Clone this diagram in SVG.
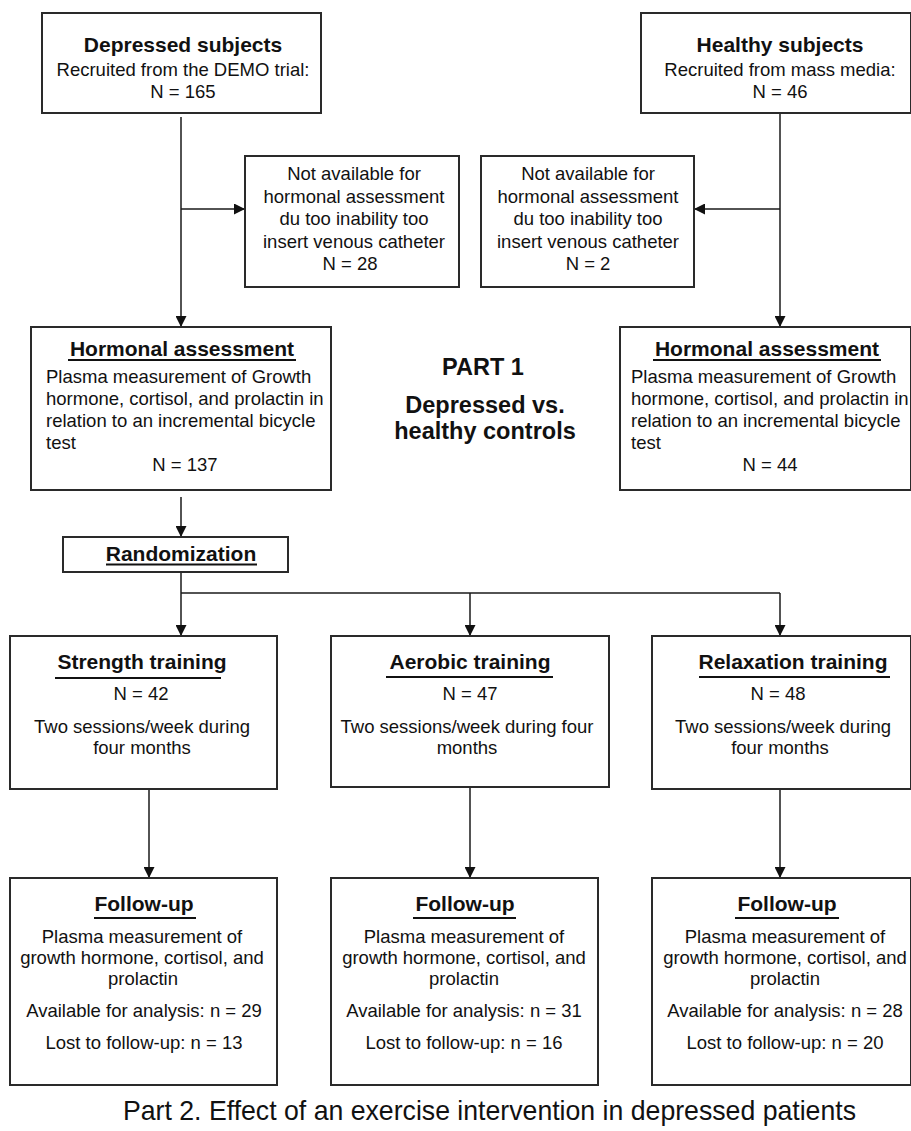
<svg xmlns="http://www.w3.org/2000/svg" width="911" height="1131" viewBox="0 0 911 1131">
<defs>
<marker id="ah" markerUnits="userSpaceOnUse" markerWidth="11" markerHeight="11" refX="11" refY="5.5" orient="auto">
<path d="M0,0 L11,5.5 L0,11 z" fill="#111"/>
</marker>
<style>
.box{fill:#fff;stroke:#2a2a2a;stroke-width:2}
.t{font-family:"Liberation Sans",Arial,sans-serif;font-size:18.5px;fill:#111}
.b{font-family:"Liberation Sans",Arial,sans-serif;font-size:21px;font-weight:bold;fill:#111}
.p{font-family:"Liberation Sans",Arial,sans-serif;font-size:23.5px;font-weight:bold;fill:#111}
.c{text-anchor:middle}
.ul{stroke:#111;stroke-width:1.8}
.cn{stroke:#1a1a1a;stroke-width:1.5;fill:none}
.cap{font-family:"Liberation Sans",Arial,sans-serif;font-size:28px;fill:#111}
</style>
</defs>
<rect width="911" height="1131" fill="#fff"/>

<g id="connectors">
<line class="cn" x1="181" y1="117" x2="181" y2="327" marker-end="url(#ah)"/>
<line class="cn" x1="181" y1="209" x2="245" y2="209" marker-end="url(#ah)"/>
<line class="cn" x1="780" y1="113" x2="780" y2="327" marker-end="url(#ah)"/>
<line class="cn" x1="780" y1="209" x2="694" y2="209" marker-end="url(#ah)"/>
<line class="cn" x1="181" y1="497" x2="181" y2="537" marker-end="url(#ah)"/>
<line class="cn" x1="181" y1="572" x2="181" y2="636" marker-end="url(#ah)"/>
<line class="cn" x1="181" y1="593" x2="780" y2="593"/>
<line class="cn" x1="470" y1="593" x2="470" y2="636" marker-end="url(#ah)"/>
<line class="cn" x1="780" y1="593" x2="780" y2="636" marker-end="url(#ah)"/>
<line class="cn" x1="149" y1="786" x2="149" y2="878" marker-end="url(#ah)"/>
<line class="cn" x1="470" y1="786" x2="470" y2="878" marker-end="url(#ah)"/>
<line class="cn" x1="780" y1="786" x2="780" y2="878" marker-end="url(#ah)"/>
</g>

<g id="depressed">
<rect class="box" x="42" y="13" width="279" height="100"/>
<text class="b c" x="183" y="52">Depressed subjects</text>
<text class="t c" x="183" y="76">Recruited from the DEMO trial:</text>
<text class="t c" x="183" y="98">N = 165</text>
</g>

<g id="healthy">
<rect class="box" x="641" y="13" width="270" height="100"/>
<text class="b c" x="780" y="52">Healthy subjects</text>
<text class="t c" x="780" y="76">Recruited from mass media:</text>
<text class="t c" x="780" y="98">N = 46</text>
</g>

<g id="excluded-depressed">
<rect class="box" x="245" y="156" width="214" height="131"/>
<text class="t c" x="354" y="180">Not available for</text>
<text class="t c" x="354" y="203">hormonal assessment</text>
<text class="t c" x="354" y="225">du too inability too</text>
<text class="t c" x="354" y="248">insert venous catheter</text>
<text class="t c" x="350" y="270">N = 28</text>
</g>

<g id="excluded-healthy">
<rect class="box" x="481" y="156" width="213" height="131"/>
<text class="t c" x="588" y="180">Not available for</text>
<text class="t c" x="588" y="203">hormonal assessment</text>
<text class="t c" x="588" y="225">du too inability too</text>
<text class="t c" x="588" y="248">insert venous catheter</text>
<text class="t c" x="588" y="270">N = 2</text>
</g>

<g id="hormonal-depressed">
<rect class="box" x="31" y="327" width="300" height="163"/>
<text class="b c" x="182" y="356">Hormonal assessment</text>
<line class="ul" x1="68" y1="360" x2="296" y2="360"/>
<text class="t" x="46" y="383">Plasma measurement of Growth</text>
<text class="t" x="46" y="405">hormone, cortisol, and prolactin in</text>
<text class="t" x="46" y="427">relation to an incremental bicycle</text>
<text class="t" x="46" y="449">test</text>
<text class="t c" x="185" y="471">N = 137</text>
</g>

<g id="part1">
<text class="p c" x="483" y="375">PART 1</text>
<text class="p c" x="485" y="413">Depressed vs.</text>
<text class="p c" x="485" y="439">healthy controls</text>
</g>

<g id="hormonal-healthy">
<rect class="box" x="620" y="327" width="291" height="163"/>
<text class="b c" x="767" y="356">Hormonal assessment</text>
<line class="ul" x1="653" y1="360" x2="881" y2="360"/>
<text class="t" x="631" y="383">Plasma measurement of Growth</text>
<text class="t" x="631" y="405">hormone, cortisol, and prolactin in</text>
<text class="t" x="631" y="427">relation to an incremental bicycle</text>
<text class="t" x="631" y="449">test</text>
<text class="t c" x="770" y="471">N = 44</text>
</g>

<g id="randomization">
<rect class="box" x="63" y="537" width="225" height="35"/>
<text class="b c" x="181" y="561">Randomization</text>
<line class="ul" x1="106" y1="564.5" x2="257" y2="564.5"/>
</g>

<g id="strength">
<rect class="box" x="10" y="636" width="267" height="153"/>
<text class="b c" x="142" y="669">Strength training</text>
<line class="ul" x1="55" y1="678" x2="221" y2="678"/>
<text class="t c" x="141" y="700">N = 42</text>
<text class="t c" x="142" y="733">Two sessions/week during</text>
<text class="t c" x="142" y="754">four months</text>
</g>

<g id="aerobic">
<rect class="box" x="331" y="636" width="278" height="151"/>
<text class="b c" x="470" y="669">Aerobic training</text>
<line class="ul" x1="386" y1="677" x2="553" y2="677"/>
<text class="t c" x="470" y="700">N = 47</text>
<text class="t c" x="467" y="733">Two sessions/week during four</text>
<text class="t c" x="467" y="754">months</text>
</g>

<g id="relaxation">
<rect class="box" x="652" y="636" width="259" height="153"/>
<text class="b c" x="793" y="669">Relaxation training</text>
<line class="ul" x1="699" y1="677" x2="890" y2="677"/>
<text class="t c" x="778" y="700">N = 48</text>
<text class="t c" x="783" y="733">Two sessions/week during</text>
<text class="t c" x="780" y="754">four months</text>
</g>

<g id="followup-strength">
<rect class="box" x="10" y="878" width="267" height="207"/>
<text class="b c" x="144" y="911">Follow-up</text>
<line class="ul" x1="94" y1="918" x2="196" y2="918"/>
<text class="t c" x="142" y="943">Plasma measurement of</text>
<text class="t c" x="142" y="964">growth hormone, cortisol, and</text>
<text class="t c" x="143" y="985">prolactin</text>
<text class="t c" x="144" y="1017">Available for analysis: n = 29</text>
<text class="t c" x="144" y="1049">Lost to follow-up: n = 13</text>
</g>

<g id="followup-aerobic">
<rect class="box" x="331" y="878" width="267" height="207"/>
<text class="b c" x="465" y="911">Follow-up</text>
<line class="ul" x1="413" y1="918" x2="516" y2="918"/>
<text class="t c" x="464" y="943">Plasma measurement of</text>
<text class="t c" x="464" y="964">growth hormone, cortisol, and</text>
<text class="t c" x="464" y="985">prolactin</text>
<text class="t c" x="464" y="1017">Available for analysis: n = 31</text>
<text class="t c" x="464" y="1049">Lost to follow-up: n = 16</text>
</g>

<g id="followup-relaxation">
<rect class="box" x="652" y="878" width="259" height="207"/>
<text class="b c" x="787" y="911">Follow-up</text>
<line class="ul" x1="735" y1="918" x2="839" y2="918"/>
<text class="t c" x="785" y="943">Plasma measurement of</text>
<text class="t c" x="785" y="964">growth hormone, cortisol, and</text>
<text class="t c" x="785" y="985">prolactin</text>
<text class="t c" x="785" y="1017">Available for analysis: n = 28</text>
<text class="t c" x="785" y="1049">Lost to follow-up: n = 20</text>
</g>

<g id="caption">
<text class="cap" x="123" y="1120" textLength="733" lengthAdjust="spacingAndGlyphs">Part 2. Effect of an exercise intervention in depressed patients</text>
</g>
</svg>
